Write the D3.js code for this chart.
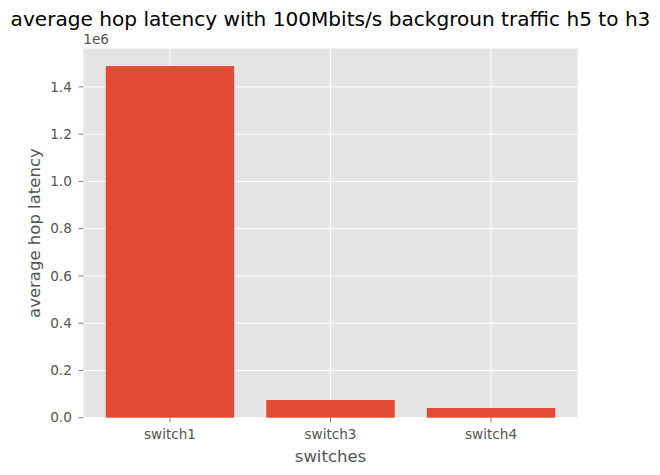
<!DOCTYPE html>
<html><head><meta charset="utf-8">
<script src="https://cdn.jsdelivr.net/npm/d3@7"></script>
<style>body{margin:0;background:#fff;} text{font-family:"DejaVu Sans",sans-serif;}</style>
</head><body>
<svg id="c" width="660" height="475"></svg>
<script>
const categories = ["switch1", "switch3", "switch4"];
const values = [1488000, 74900, 41000];
const yTicks = [0, 200000, 400000, 600000, 800000, 1000000, 1200000, 1400000];
const yTickLabels = ["0.0", "0.2", "0.4", "0.6", "0.8", "1.0", "1.2", "1.4"];
const titleText = "average hop latency with 100Mbits/s backgroun traffic h5 to h3";
const xLabel = "switches";
const yLabel = "average hop latency";

const svg = d3.select("#c");
const L = 83.3, R = 577.7, T = 48.5, B = 417.7;
const ymax = d3.max(values) * 1.05;
const y = d3.scaleLinear().domain([0, ymax]).range([B, T]);
const x = d3.scaleLinear().domain([-0.54, 2.54]).range([L, R]);

svg.append("rect").attr("x", L).attr("y", T).attr("width", R - L).attr("height", B - T).attr("fill", "#E5E5E5");

// grid
svg.append("g").selectAll("line").data(yTicks).join("line")
  .attr("x1", L).attr("x2", R).attr("y1", d => y(d)).attr("y2", d => y(d))
  .attr("stroke", "#fff").attr("stroke-width", 1);
svg.append("g").selectAll("line").data(categories).join("line")
  .attr("x1", (d, i) => x(i)).attr("x2", (d, i) => x(i)).attr("y1", T).attr("y2", B)
  .attr("stroke", "#fff").attr("stroke-width", 1);

// bars
svg.append("g").selectAll("rect").data(values).join("rect")
  .attr("x", (d, i) => x(i - 0.4)).attr("width", (d, i) => x(i + 0.4) - x(i - 0.4))
  .attr("y", d => y(d)).attr("height", d => B - y(d)).attr("fill", "#E24A33");

// y axis ticks
const yg = svg.append("g");
yg.selectAll("line").data(yTicks).join("line")
  .attr("x1", L - 4.7).attr("x2", L).attr("y1", d => y(d)).attr("y2", d => y(d))
  .attr("stroke", "#555555").attr("stroke-width", 0.8);
yg.selectAll("text").data(yTicks).join("text")
  .attr("x", L - 11.5).attr("y", d => y(d)).attr("dy", "0.35em")
  .attr("text-anchor", "end").attr("font-size", "13.6px").attr("fill", "#555555")
  .text((d, i) => yTickLabels[i]);

// x axis ticks
const xg = svg.append("g");
xg.selectAll("line").data(categories).join("line")
  .attr("x1", (d, i) => x(i)).attr("x2", (d, i) => x(i)).attr("y1", B).attr("y2", B + 4.7)
  .attr("stroke", "#555555").attr("stroke-width", 0.8);
xg.selectAll("text").data(categories).join("text")
  .attr("x", (d, i) => x(i)).attr("y", 438.5)
  .attr("text-anchor", "middle").attr("font-size", "13.6px").attr("fill", "#555555")
  .text(d => d);

// offset text
svg.append("text").attr("x", L).attr("y", 44).attr("font-size", "13.6px").attr("fill", "#555555").text("1e6");

// labels
svg.append("text").attr("x", (L + R) / 2).attr("y", 462).attr("text-anchor", "middle")
  .attr("font-size", "16.5px").attr("fill", "#555555").text(xLabel);
svg.append("text").attr("transform", `translate(39.5,${(T + B) / 2}) rotate(-90)`).attr("text-anchor", "middle")
  .attr("font-size", "16.5px").attr("fill", "#555555").text(yLabel);
svg.append("text").attr("x", (L + R) / 2).attr("y", 26).attr("text-anchor", "middle")
  .attr("font-size", "20.1px").attr("fill", "#000").text(titleText);
</script>
</body></html>
